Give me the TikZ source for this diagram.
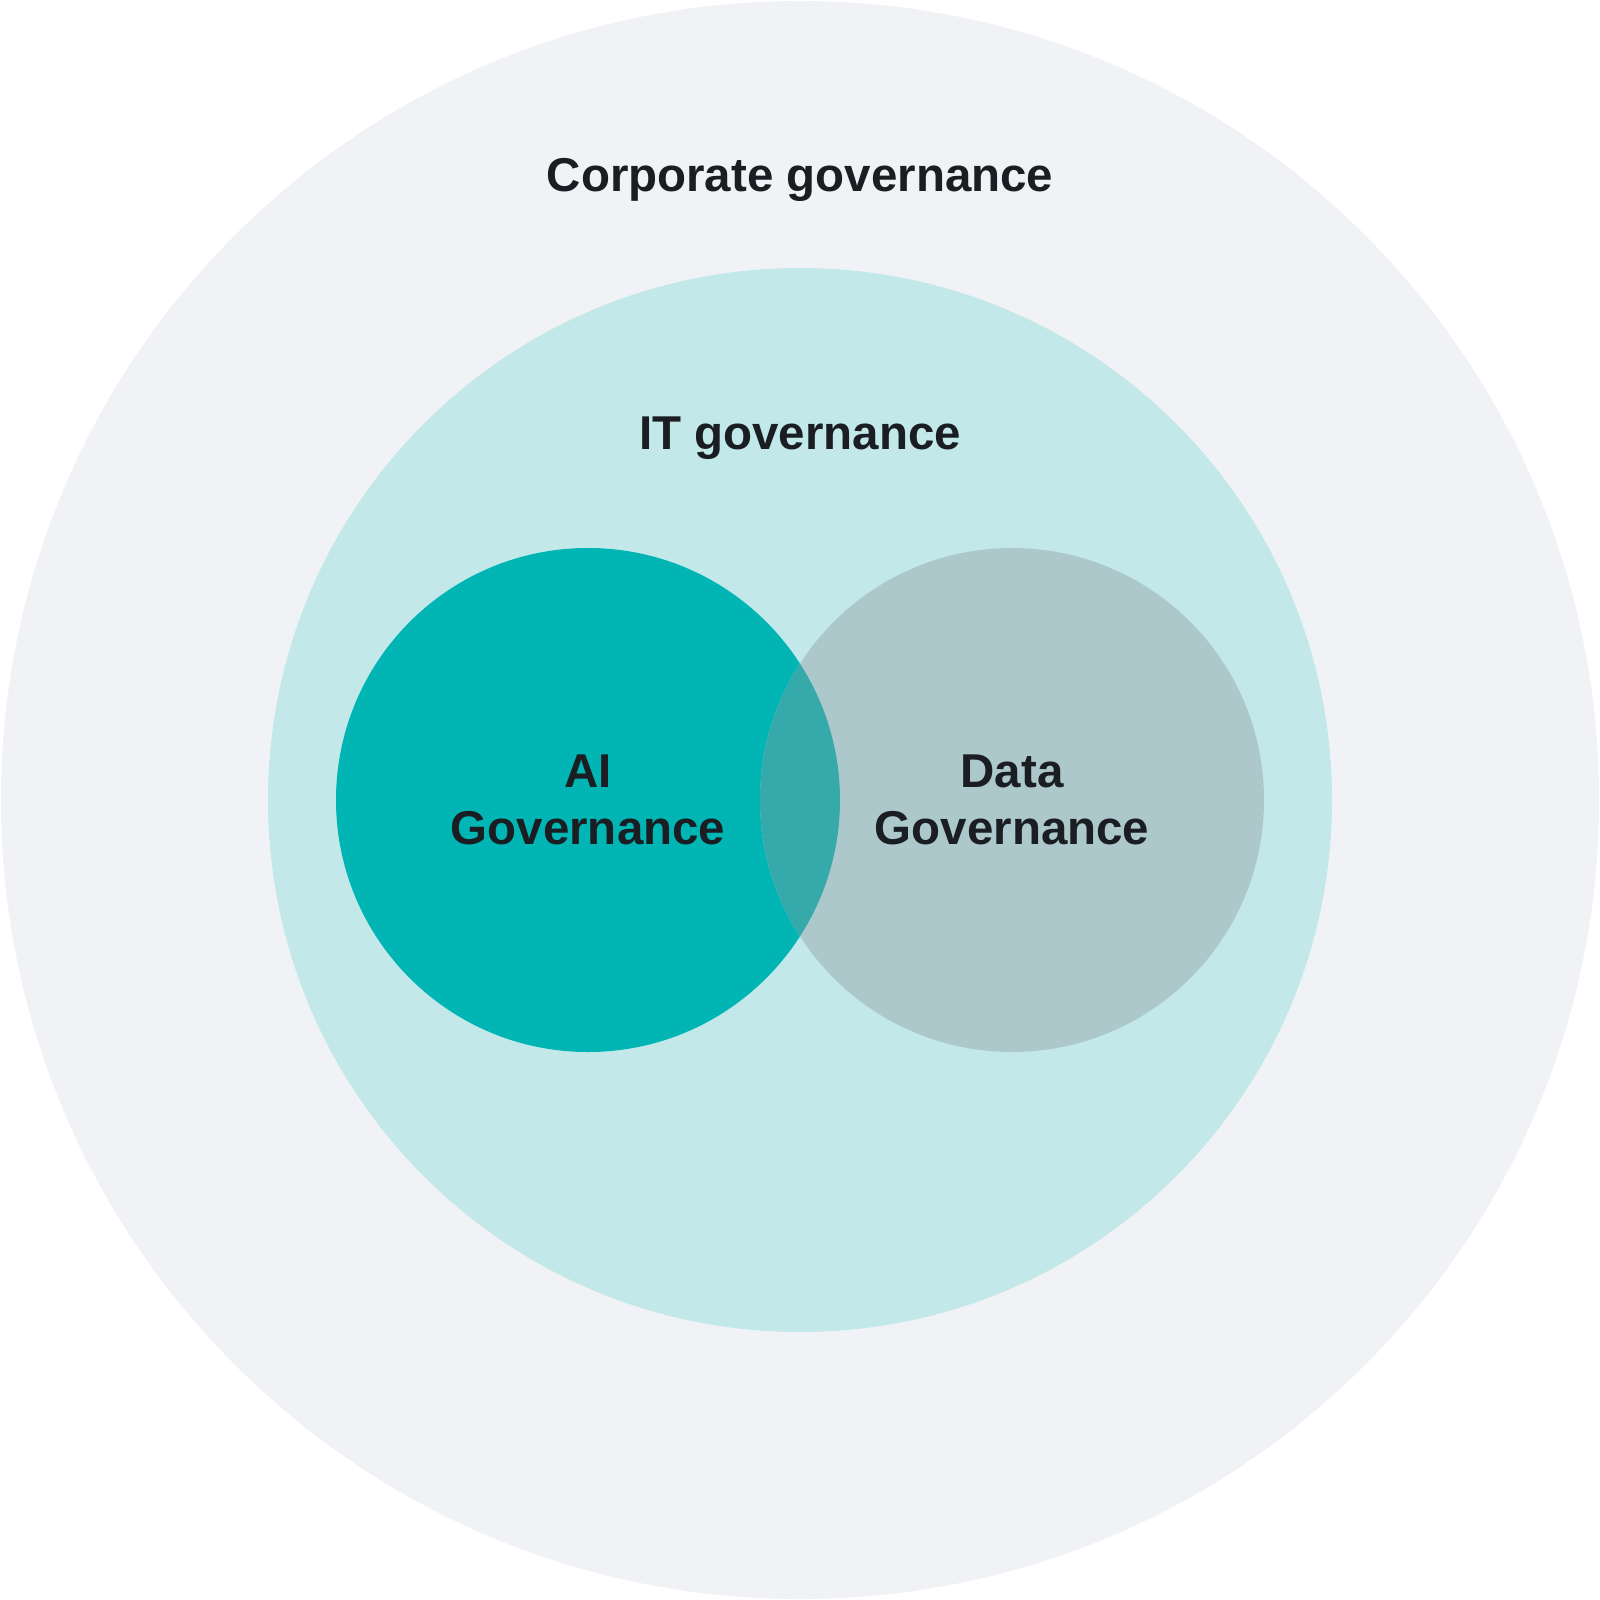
\documentclass[tikz,border=0pt]{standalone}
\usepackage{fontspec}
\setmainfont{Liberation Sans}
\definecolor{outerc}{HTML}{F0F2F5}
\definecolor{itc}{HTML}{C2E8E9}
\definecolor{aic}{HTML}{00B5B3}
\definecolor{datac}{HTML}{ADC8CA}
\definecolor{overc}{HTML}{36A9AA}
\definecolor{txtc}{HTML}{1A1D21}
\begin{document}
\begin{tikzpicture}[x=0.01cm,y=-0.01cm,
  lbl/.style={font=\bfseries\fontsize{13.5}{16.2}\selectfont, text=txtc, align=center, inner sep=0pt}]
\useasboundingbox (0,0) rectangle (1600,1600);
\fill[white] (0,0) rectangle (1600,1600);
\fill[outerc] (800,800) circle[radius=799];
\fill[itc] (800,800) circle[radius=532];
\fill[aic] (588,800) circle[radius=252];
\fill[datac] (1012,800) circle[radius=252];
\begin{scope}
  \clip (588,800) circle[radius=252];
  \fill[overc] (1012,800) circle[radius=252];
\end{scope}
\node[lbl, anchor=base] (corp) at (800,192) {Corporate governance};
\node[lbl, anchor=base] (it) at (800,449) {IT governance};
\node[lbl] (ai) at (588,800) {AI\\Governance};
\node[lbl] (data) at (1012,800) {Data\\Governance};
\end{tikzpicture}
\end{document}
